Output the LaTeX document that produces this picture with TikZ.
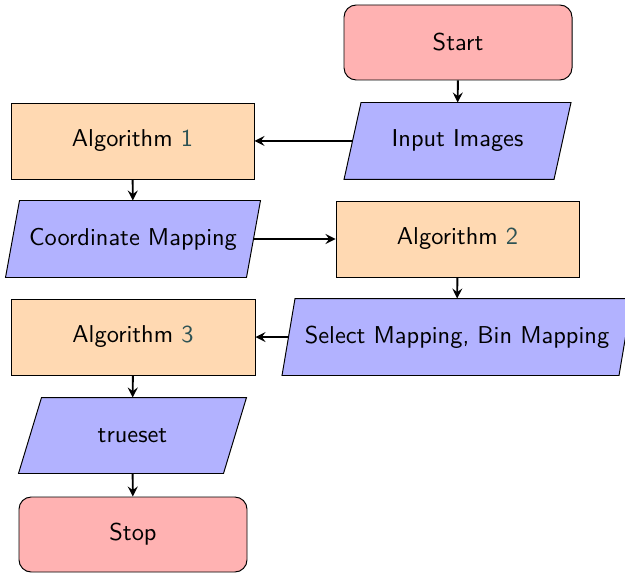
\documentclass[tikz,border=0pt]{standalone}
\usetikzlibrary{arrows,backgrounds}
\renewcommand{\familydefault}{\sfdefault}
\definecolor{numcol}{RGB}{45,82,84}
\def\pxu{0.41pt}
\tikzset{
  startstop/.style={rectangle, rounded corners=5pt, draw=black, fill=red!30,
    minimum width=228*\pxu, minimum height=75*\pxu, inner sep=0pt, align=center},
  process/.style={rectangle, draw=black, fill=orange!30,
    minimum height=76*\pxu, inner sep=0pt, align=center},
  io/.style={rectangle, draw=none, minimum height=76*\pxu, inner sep=0pt, align=center},
  iofill/.style={draw=black, fill=blue!30},
  arrow/.style={thick, ->, >=stealth},
}
% parallelogram around an io node: #1 node name, #2 horizontal slant in px
\newcommand{\slantbox}[2]{%
  \path[iofill] ([xshift=-#2*0.5*\pxu]#1.south west) -- ([xshift=#2*0.5*\pxu]#1.north west)
    -- ([xshift=#2*0.5*\pxu]#1.north east) -- ([xshift=-#2*0.5*\pxu]#1.south east) -- cycle;}
\newcommand{\algref}[1]{Algorithm \textcolor{numcol}{#1}}
\begin{document}
\begin{tikzpicture}[x=\pxu, y=-\pxu]
\useasboundingbox (0,0) rectangle (625,574);

\node[startstop] (start) at (458,42.5) {Start};
\node[io, minimum width=209*\pxu] (input) at (457.5,141) {Input Images};
\node[process, minimum width=243*\pxu] (alg1) at (132.5,141) {\algref{1}};
\node[io, minimum width=240*\pxu] (coord) at (133,239) {Coordinate Mapping};
\node[process, minimum width=243*\pxu] (alg2) at (457.5,239) {\algref{2}};
\node[io, minimum width=336*\pxu] (select) at (457,337) {Select Mapping, Bin Mapping};
\node[process, minimum width=244*\pxu] (alg3) at (133,337) {\algref{3}};
\node[io, minimum width=204*\pxu, minimum height=75*\pxu] (trueset) at (132.5,435.5) {trueset};
\node[startstop] (stop) at (133,534.5) {Stop};

\begin{scope}[on background layer]
  \slantbox{input}{17}
  \slantbox{coord}{14}
  \slantbox{select}{13}
  \slantbox{trueset}{23}
\end{scope}

\draw[arrow] (start) -- (input);
\draw[arrow] (input) -- (alg1);
\draw[arrow] (alg1) -- (coord);
\draw[arrow] (coord) -- (alg2);
\draw[arrow] (alg2) -- (select);
\draw[arrow] (select) -- (alg3);
\draw[arrow] (alg3) -- (trueset);
\draw[arrow] (trueset) -- (stop);
\end{tikzpicture}
\end{document}
